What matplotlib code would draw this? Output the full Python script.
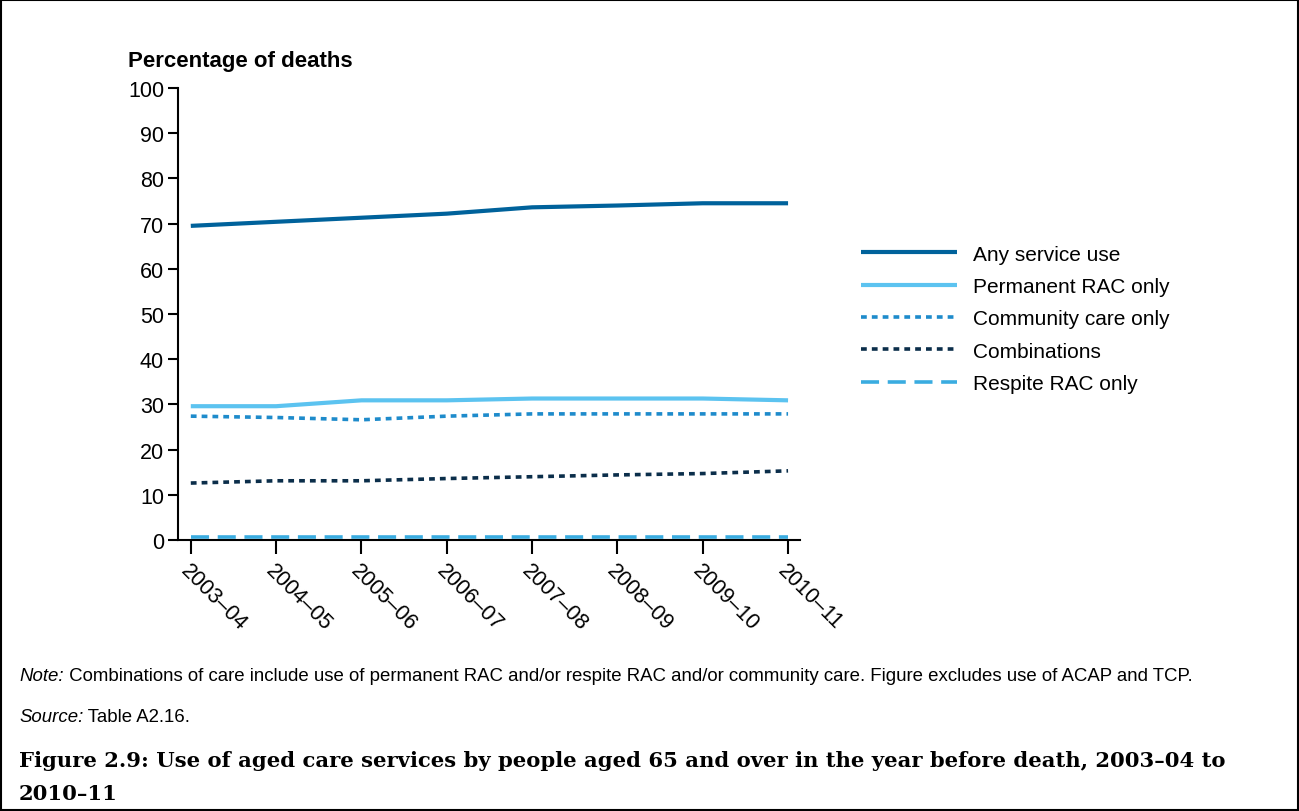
import matplotlib
matplotlib.use("Agg")
import matplotlib.pyplot as plt
from matplotlib.patches import Rectangle

plt.rcParams['font.family'] = ['Liberation Sans', 'DejaVu Sans']

years = ["2003–04", "2004–05", "2005–06", "2006–07", "2007–08", "2008–09", "2009–10", "2010–11"]
any_service = [69.5, 70.4, 71.3, 72.2, 73.6, 74.0, 74.5, 74.5]
permanent_rac = [29.6, 29.6, 30.9, 30.9, 31.3, 31.3, 31.3, 30.9]
community_care = [27.4, 27.1, 26.6, 27.4, 27.9, 27.9, 27.9, 27.9]
combinations = [12.6, 13.1, 13.1, 13.6, 14.0, 14.4, 14.7, 15.3]
respite_rac = [0.6, 0.6, 0.6, 0.6, 0.6, 0.6, 0.6, 0.6]
yticks = [0, 10, 20, 30, 40, 50, 60, 70, 80, 90, 100]

fig = plt.figure(figsize=(12.99, 8.12), dpi=100)
ax = fig.add_axes([178/1299, 1-541/812, (800-178)/1299, (541-89)/812])

x = list(range(len(years)))
ax.plot(x, any_service, color="#00629B", lw=3.0, label="Any service use", solid_capstyle='butt')
ax.plot(x, permanent_rac, color="#5CC3F0", lw=3.0, label="Permanent RAC only", solid_capstyle='butt')
ax.plot(x, community_care, color="#1E8BCB", lw=2.6, linestyle=(0, (1.6, 1.4)), label="Community care only")
ax.plot(x, combinations, color="#0B2E4A", lw=2.6, linestyle=(0, (1.6, 1.4)), label="Combinations")
ax.plot(x, respite_rac, color="#3AACE0", lw=2.6, linestyle=(0, (5.0, 2.4)), label="Respite RAC only")

ax.set_xlim(-0.15, 7.14)
ax.set_ylim(0, 100)
ax.set_yticks(yticks)
ax.set_xticks(x)
ax.set_xticklabels(years, rotation=-45, ha='left', va='top', rotation_mode='anchor', fontsize=15.5)
ax.tick_params(axis='y', labelsize=15.5, length=7, width=1.5, direction='out', pad=3)
ax.tick_params(axis='x', length=10, width=1.5, direction='out', pad=4)
for s in ['top', 'right']:
    ax.spines[s].set_visible(False)
for s in ['left', 'bottom']:
    ax.spines[s].set_linewidth(1.5)

fig.text(128/1299, 1-61/812, "Percentage of deaths", fontsize=16, fontweight='bold', ha='left', va='center')

leg = fig.legend(loc='upper left', bbox_to_anchor=(842/1299, 1-227/812), frameon=False,
                 fontsize=15, handlelength=4.6, handletextpad=0.8, labelspacing=0.64)

fs_note = 13.4
t1 = fig.text(19/1299, 1-677/812, "Note:", fontsize=fs_note, style='italic', ha='left', va='center')
fig.canvas.draw()
bb = t1.get_window_extent()
fig.text(bb.x1/1299, 1-677/812, " Combinations of care include use of permanent RAC and/or respite RAC and/or community care. Figure excludes use of ACAP and TCP.",
         fontsize=fs_note, ha='left', va='center')
t2 = fig.text(19/1299, 1-718/812, "Source:", fontsize=fs_note, style='italic', ha='left', va='center')
fig.canvas.draw()
bb2 = t2.get_window_extent()
fig.text(bb2.x1/1299, 1-718/812, " Table A2.16.", fontsize=fs_note, ha='left', va='center')

serif = ['DejaVu Serif']
fig.text(19/1299, 1-761/812, "Figure 2.9: Use of aged care services by people aged 65 and over in the year before death, 2003–04 to",
         fontsize=15.2, fontweight='bold', family=serif, ha='left', va='center')
fig.text(19/1299, 1-794/812, "2010–11",
         fontsize=15.2, fontweight='bold', family=serif, ha='left', va='center')

fig.add_artist(Rectangle((0.001, 0.001), 0.998, 0.998, transform=fig.transFigure, fill=False, edgecolor='black', lw=1.5))

fig.savefig("out.png", dpi=100)
